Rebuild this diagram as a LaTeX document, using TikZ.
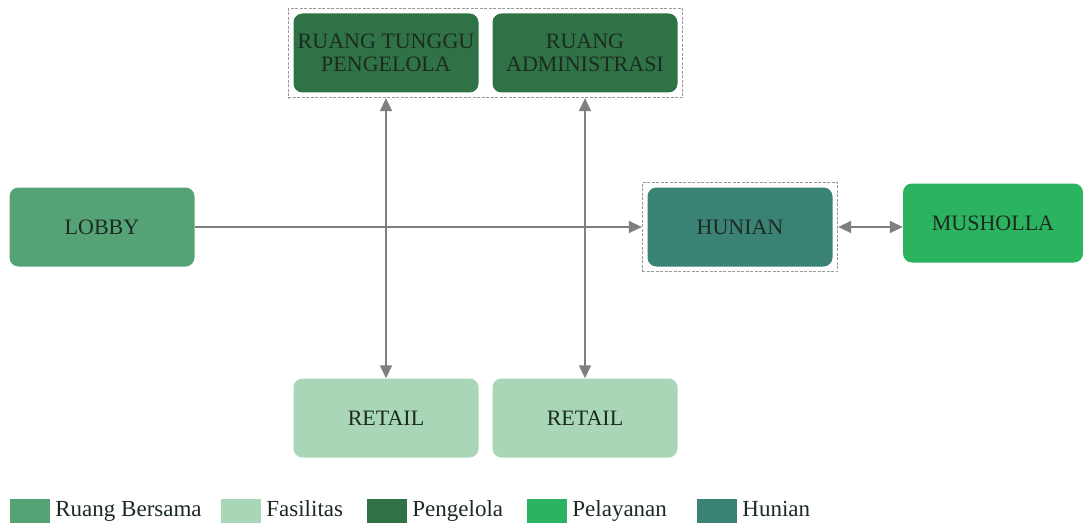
\documentclass[tikz,border=0pt]{standalone}
\usepackage{fontspec}
\setmainfont{Liberation Serif}
\usetikzlibrary{positioning,arrows.meta,fit}
\definecolor{bersama}{HTML}{55A276}
\definecolor{fasilitas}{HTML}{A8D6B6}
\definecolor{pengelola}{HTML}{2F7246}
\definecolor{pelayanan}{HTML}{2BB360}
\definecolor{hunian}{HTML}{3A8273}
\definecolor{ink}{HTML}{1C2A22}
\definecolor{link}{HTML}{7F7F7F}

\begin{document}
\begin{tikzpicture}[x=1pt,y=-1pt,
  >={Triangle[length=13pt,width=12pt]},
  room/.style={rounded corners=9pt,minimum width=185pt,minimum height=79pt,align=center,text=ink,font=\fontsize{22}{23}\selectfont,inner sep=0pt},
  grp/.style={draw=link!80,dash pattern=on 3pt off 1.5pt,line width=0.9pt,inner sep=5pt},
  arr/.style={draw=link,line width=1.5pt},
  key/.style={minimum width=40pt,minimum height=24pt,inner sep=0pt},
  keytxt/.style={anchor=west,text=ink,font=\fontsize{23}{24}\selectfont,inner sep=0pt,text height=15pt,text depth=5pt}]
  \useasboundingbox[fill=white] (0,0) rectangle (1083,524);
  % rooms
  \node[room,fill=bersama] (lobby) at (102,227) {LOBBY};
  \node[room,fill=pengelola] (tunggu) at (386,53) {RUANG TUNGGU\\PENGELOLA};
  \node[room,fill=pengelola] (admin) at (585,53) {RUANG\\ADMINISTRASI};
  \node[room,fill=hunian] (hunian) at (740,227) {HUNIAN};
  \node[room,fill=pelayanan,minimum width=180pt] (musholla) at (993,223) {MUSHOLLA};
  \node[room,fill=fasilitas] (retailA) at (386,418) {RETAIL};
  \node[room,fill=fasilitas] (retailB) at (585,418) {RETAIL};
  % groups
  \node[grp,fit=(tunggu)(admin)] (kantor) {};
  \node[grp,fit=(hunian)] (huniangrp) {};
  % links
  \draw[arr,->] (lobby.east) -- (huniangrp.west);
  \draw[arr,<->] (huniangrp.east) -- (musholla.west |- huniangrp.east);
  \draw[arr,<->] (kantor.south -| retailA) -- (retailA.north);
  \draw[arr,<->] (kantor.south -| retailB) -- (retailB.north);
  % legend
  \node[key,fill=bersama] (k1) at (30,511) {};
  \node[keytxt,right=5pt of k1] (t1) {Ruang Bersama};
  \node[key,fill=fasilitas] (k2) at (241,511) {};
  \node[keytxt,right=5pt of k2] (t2) {Fasilitas};
  \node[key,fill=pengelola] (k3) at (387,511) {};
  \node[keytxt,right=5pt of k3] (t3) {Pengelola};
  \node[key,fill=pelayanan] (k4) at (547,511) {};
  \node[keytxt,right=5pt of k4] (t4) {Pelayanan};
  \node[key,fill=hunian] (k5) at (717,511) {};
  \node[keytxt,right=5pt of k5] (t5) {Hunian};
\end{tikzpicture}
\end{document}
